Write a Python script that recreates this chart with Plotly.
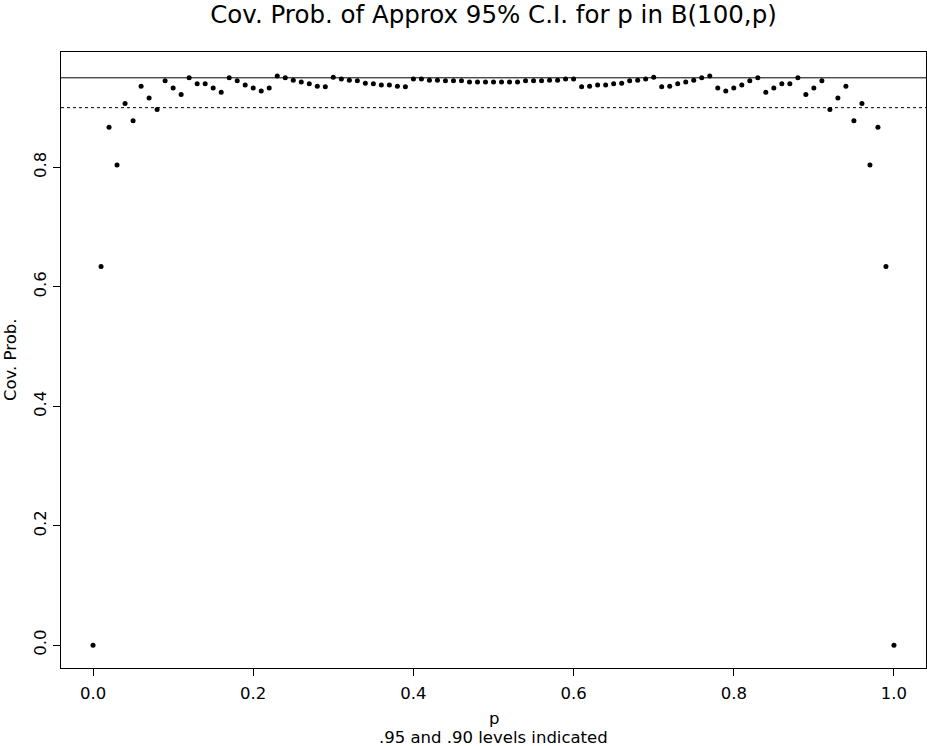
import plotly.graph_objects as go

# Data
p_values = [i / 100 for i in range(101)]
coverage = [
    0.000, 0.634, 0.867, 0.804, 0.907, 0.878, 0.936, 0.916, 0.897, 0.945,
    0.933, 0.922, 0.950, 0.940, 0.940, 0.933, 0.926, 0.950, 0.945, 0.938,
    0.933, 0.928, 0.933, 0.953, 0.950, 0.946, 0.943, 0.940, 0.936, 0.935,
    0.951, 0.948, 0.946, 0.945, 0.941, 0.940, 0.938, 0.938, 0.936, 0.935,
    0.948, 0.948, 0.946, 0.946, 0.945, 0.945, 0.945, 0.943, 0.943, 0.943,
    0.943,
    0.943, 0.943, 0.943, 0.945, 0.945, 0.945, 0.946, 0.946, 0.948, 0.948,
    0.935, 0.936, 0.938, 0.938, 0.940, 0.941, 0.945, 0.946, 0.948, 0.951,
    0.935, 0.936, 0.940, 0.943, 0.946, 0.950, 0.953, 0.933, 0.928, 0.933,
    0.938, 0.945, 0.950, 0.926, 0.933, 0.940, 0.940, 0.950, 0.922, 0.933,
    0.945, 0.897, 0.916, 0.936, 0.878, 0.907, 0.804, 0.867, 0.634, 0.000,
]
ref_levels = [0.95, 0.90]
ref_dashes = ["solid", "dot"]
x_ticks = [0.0, 0.2, 0.4, 0.6, 0.8, 1.0]
x_ticklabels = ["0.0", "0.2", "0.4", "0.6", "0.8", "1.0"]
y_ticks = [0.0, 0.2, 0.4, 0.6, 0.8]
y_ticklabels = ["0.0", "0.2", "0.4", "0.6", "0.8"]

title_text = "Cov. Prob. of Approx 95% C.I. for p in B(100,p)"
x_label = "p"
sub_label = ".95 and .90 levels indicated"
y_label = "Cov. Prob."

FONT = "DejaVu Sans, Liberation Sans, Arial, sans-serif"
FS = 16.5
W, H = 927, 746
L, R, T, B = 61, 1, 52, 78
PH = H - T - B
PW = W - L - R

fig = go.Figure()
fig.add_trace(go.Scatter(
    x=p_values, y=coverage, mode="markers",
    marker=dict(size=5, color="black", line=dict(width=0)),
    showlegend=False, hoverinfo="x+y",
))

for lvl, dash in zip(ref_levels, ref_dashes):
    fig.add_shape(type="line", xref="paper", yref="y", x0=0, x1=1, y0=lvl, y1=lvl,
                  line=dict(color="black", width=1, dash=dash))

axis_common = dict(
    showgrid=False, zeroline=False, showline=True, mirror=True,
    linecolor="black", linewidth=1, ticks="outside", ticklen=7,
    tickcolor="black", tickwidth=1,
    tickfont=dict(family=FONT, size=FS, color="black"),
)
fig.update_xaxes(range=[-0.04, 1.04], tickvals=x_ticks, ticktext=x_ticklabels,
                 ticklabelstandoff=3, **axis_common)
fig.update_yaxes(range=[-0.0382, 0.9932], tickvals=y_ticks, ticktext=y_ticklabels,
                 tickangle=-90, **axis_common)

fig.update_layout(
    width=W, height=H,
    margin=dict(l=L, r=R, t=T, b=B, pad=0),
    paper_bgcolor="white", plot_bgcolor="white",
    font=dict(family=FONT, color="black"),
    title=dict(text=title_text, x=(L + (W - R)) / 2 / W, xanchor="center",
               y=1 - 14 / H, yanchor="middle", yref="container",
               font=dict(family=FONT, size=24.5, color="black")),
    annotations=[
        dict(text=x_label, xref="paper", yref="paper", x=0.5, y=-(718 - (H - B)) / PH,
             xanchor="center", yanchor="middle", showarrow=False,
             font=dict(family=FONT, size=FS, color="black")),
        dict(text=sub_label, xref="paper", yref="paper", x=0.5, y=-(738 - (H - B)) / PH,
             xanchor="center", yanchor="middle", showarrow=False,
             font=dict(family=FONT, size=FS, color="black")),
        dict(text=y_label, xref="paper", yref="paper", x=-(L - 10) / PW, y=0.5,
             xanchor="center", yanchor="middle", textangle=-90, showarrow=False,
             font=dict(family=FONT, size=FS, color="black")),
    ],
)

fig.write_html("out.html", config={"displayModeBar": False},
               post_script="document.body.style.margin='0';")
